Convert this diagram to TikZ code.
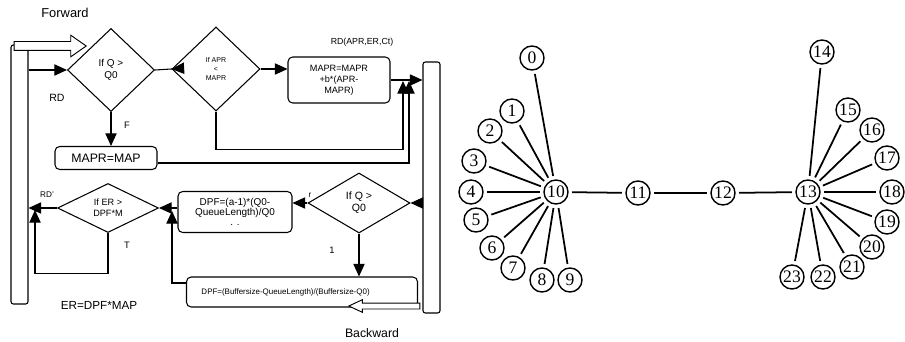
\documentclass[tikz,border=0pt]{standalone}
\usepackage{fontspec}
\setmainfont{Liberation Sans}
\newfontfamily\numfont{Liberation Serif}
\usetikzlibrary{shapes.geometric, shapes.arrows, arrows.meta, positioning}

\begin{document}
\begin{tikzpicture}[x=0.03cm, y=-0.03cm,
  box/.style={rectangle, rounded corners=4pt, draw, line width=0.9pt,
    inner sep=1pt, align=center},
  decision/.style={diamond, draw, line width=0.9pt, inner sep=0pt, align=center},
  bar/.style={rectangle, rounded corners=2pt, draw, line width=0.9pt,
    minimum width=0.51cm, inner sep=0pt},
  arrow/.style={-{Triangle[length=0.38cm, width=0.34cm]}, line width=0.9pt},
  backtip/.style={-{Triangle[length=0.38cm, width=0.34cm, reversed]}, line width=0.9pt,
    shorten >=-0.38cm},
  flowarrow/.style={single arrow, draw, fill=white, line width=0.8pt,
    inner xsep=0pt, single arrow head indent=0pt},
  lbl/.style={inner sep=0pt},
  station/.style={circle, draw, line width=1.2pt, inner sep=0pt,
    minimum size=0.72cm, font=\numfont\fontsize{15}{15}\selectfont},
  link/.style={line width=1.5pt, shorten <=3pt, shorten >=3pt}
]
\useasboundingbox (0,0) rectangle (905,342);

\node[bar, minimum height=7.77cm] (lbar) at (19.5,174.5) {};
\node[bar, minimum height=7.53cm] (rbar) at (431.5,187.5) {};

\node[decision, minimum width=2.61cm, minimum height=2.49cm,
  font=\fontsize{8.5}{10}\selectfont] (qtest) at (111,70) {If Q >\\Q0};
\node[decision, minimum width=2.64cm, minimum height=2.52cm,
  font=\fontsize{6}{7.5}\selectfont] (aprtest) at (216,69) {If APR\\<\\MAPR};
\node[box, minimum width=3.06cm, minimum height=1.38cm,
  font=\fontsize{7.8}{9.4}\selectfont] (update) at (339,80) {MAPR=MAPR\\+b*(APR-\\MAPR)};
\node[box, minimum width=3.06cm, minimum height=0.69cm,
  font=\fontsize{10.5}{12}\selectfont] (keep) at (106,158) {MAPR=MAP};

\node[decision, minimum width=3.06cm, minimum height=1.8cm,
  font=\fontsize{9}{10.5}\selectfont] (qback) at (359,203) {If Q >\\Q0};
\node[box, minimum width=3.42cm, minimum height=1.23cm,
  font=\fontsize{8.5}{8.5}\selectfont] (dpf) at (235,212) {DPF=(a-1)*(Q0-\\QueueLength)/Q0\\. .};
\node[decision, minimum width=3.03cm, minimum height=1.47cm,
  font=\fontsize{7.8}{9.5}\selectfont] (ertest) at (108,208) {If ER >\\DPF*M};
\node[box, minimum width=6.93cm, minimum height=0.9cm, text width=6.03cm,
  inner xsep=0.45cm, align=left, font=\fontsize{6.8}{8}\selectfont] (buf) at (302,292)
  {DPF=(Buffersize-QueueLength)/(Buffersize-Q0)};

\node[flowarrow, minimum height=2.16cm, inner ysep=0.12cm, single arrow head extend=0.19cm,
  single arrow tip angle=70] (fwd) at (47,46) {};
\node[flowarrow, shape border rotate=180, minimum height=2.13cm, inner ysep=0.075cm,
  single arrow head extend=0.1cm, single arrow tip angle=50] (bwd) at (387.5,306) {};

\coordinate (upA) at (403,81);
\coordinate (upB) at (409,81);
\coordinate (upC) at (35,210);
\coordinate (upD) at (172,211);

\draw[arrow] (lbar.east |- qtest.west) -- (qtest.west);
\draw[backtip] (qtest.east) -- (aprtest.west);
\draw[arrow] (qtest.south) -- (qtest.south |- keep.north);
\draw[arrow] (aprtest.east) -- (aprtest.east -| update.west);
\draw[arrow] (update.east) -- (update.east -| rbar.west);
\draw[arrow] (aprtest.south) -- ++(0,38) -| (upA);
\draw[arrow] ([yshift=-0.15cm]keep.east) -| (upB);

\draw[arrow] (rbar.west |- qback.east) -- (qback.east);
\draw[arrow] (qback.west) -- (qback.west -| dpf.east);
\draw[arrow] (dpf.west |- ertest.east) -- (ertest.east);
\draw[arrow] (ertest.west) -- (ertest.west -| lbar.east);
\draw[arrow] (ertest.south) -- ++(0,40) -| (upC);
\draw[arrow] (qback.south) -- (qback.south |- buf.north);
\draw[arrow] ([yshift=0.27cm]buf.west) -| (upD);

\node[lbl, font=\fontsize{11}{13}\selectfont] (fwdtxt) at (65,13) {Forward};
\node[lbl, font=\fontsize{9}{11}\selectfont] (rdtxt) at (57,98) {RD};
\node[lbl, font=\fontsize{8}{10}\selectfont] (ftxt) at (127,125) {F};
\node[lbl, font=\fontsize{7.5}{9}\selectfont] (rdupdtxt) at (362,42) {RD(APR,ER,Ct)};
\node[lbl, font=\fontsize{7}{9}\selectfont] (rdbtxt) at (47,195) {RD'};
\node[lbl, font=\fontsize{8}{10}\selectfont] (ttxt) at (127,245) {T};
\node[lbl, font=\fontsize{10}{12}\selectfont] (ertxt) at (99,305) {ER=DPF*MAP};
\node[lbl, font=\fontsize{7}{9}\selectfont] (rtxt) at (310,195) {r};
\node[lbl, font=\fontsize{8}{10}\selectfont] (onetxt) at (332,250) {1};
\node[lbl, font=\fontsize{10.5}{12}\selectfont] (bwdtxt) at (372,333) {Backward};

\foreach \n/\x/\y in {0/532/58, 1/512/111, 2/490/131, 3/474/161, 4/471/192, 5/476/220,
  6/492/248, 7/513/268, 8/542/280, 9/570/280, 10/556/192, 11/638/193, 12/723/193,
  13/808/192, 14/822/52, 15/848/110, 16/872/130, 17/887/158, 18/892/192, 19/887/222,
  20/872/247, 21/852/267, 22/823/277, 23/792/277}
  \node[station] (s\n) at (\x,\y) {\n};

\foreach \n in {0,...,9}
  \draw[link] (s10) -- (s\n);
\foreach \a/\b in {10/11, 11/12, 12/13}
  \draw[link] (s\a) -- (s\b);
\foreach \n in {14,...,23}
  \draw[link] (s13) -- (s\n);
\end{tikzpicture}
\end{document}
